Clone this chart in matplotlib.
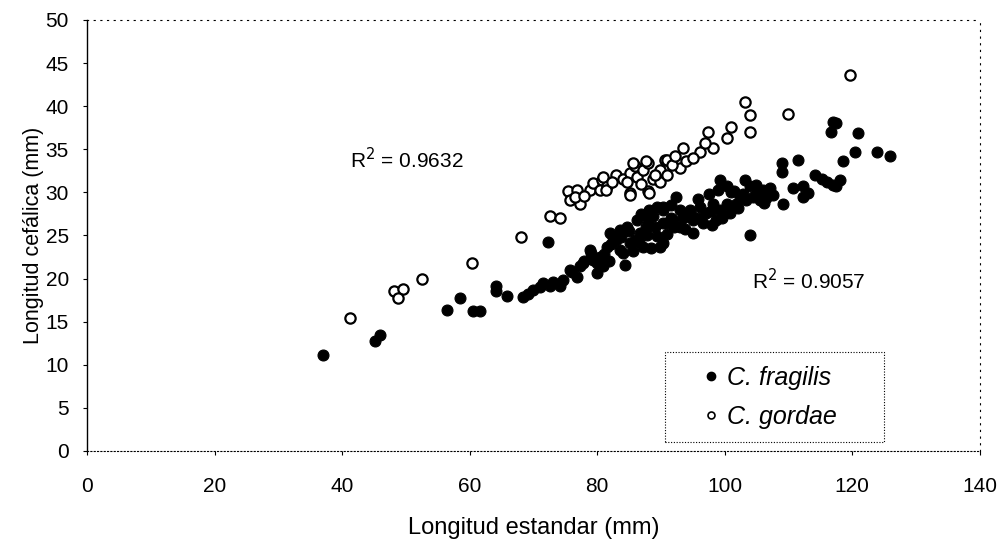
import matplotlib
matplotlib.use("Agg")
import matplotlib.pyplot as plt
from matplotlib.lines import Line2D

plt.rcParams['font.family'] = ['Liberation Sans', 'DejaVu Sans']

# C. fragilis (filled markers)
frag_x = [37.0, 45.1, 45.9, 56.4, 58.5, 60.6, 61.6, 64.2, 64.2, 65.8,
          68.4, 70.0, 71.5, 73.1, 74.7, 72.6, 74.1, 75.7, 77.3, 76.8,
          78.8, 79.4, 80.4, 80.9, 81.5, 79.9, 82.0, 83.0, 83.5, 84.6,
          83.5, 85.1, 84.3, 86.2, 86.7, 87.7, 88.8, 87.2, 89.3, 90.3,
          90.9, 89.8, 88.2, 89.3, 72.3,
          92.4, 93.0, 91.9, 93.0, 94.5, 95.0, 96.1, 97.1, 96.6, 98.2,
          99.2, 98.7, 100.3, 100.8, 95.0, 90.3, 90.3, 90.3, 101.8,
          99.2, 100.3, 98.9, 103.1, 103.9, 104.9, 106.0, 107.1, 107.6,
          102.4, 103.4, 104.4, 105.5, 106.5, 103.9,
          108.9, 108.9, 111.5, 110.7, 112.3, 112.3, 109.1, 113.1,
          114.1, 115.2, 116.0, 117.0, 118.0, 117.5,
          117.0, 116.7, 117.5, 120.9, 120.4, 123.8, 125.9, 118.5,
          69.2, 71.0, 76.0, 78.0, 81.0, 82.5, 85.0, 86.0, 87.8, 91.5,
          94.0, 97.5, 101.0, 102.0,
          77.8, 79.0, 80.0, 82.2, 84.0, 85.6, 86.5, 88.0, 89.0, 91.0,
          92.0, 93.5, 94.8, 96.0, 97.8, 99.5, 101.5, 102.8, 105.0, 106.2,
          81.8, 83.8, 86.8, 88.5, 91.5, 93.8, 95.8, 98.0]
frag_y = [11.1, 12.8, 13.4, 16.3, 17.8, 16.2, 16.2, 19.1, 18.6, 18.0,
          17.9, 18.7, 19.5, 19.6, 19.8, 19.1, 19.1, 21.0, 21.4, 20.2,
          23.3, 22.2, 22.5, 21.4, 23.7, 20.6, 25.3, 24.5, 25.6, 26.0,
          23.3, 24.1, 21.6, 26.8, 25.3, 26.0, 27.2, 23.7, 24.9, 28.0,
          26.4, 23.7, 28.0, 28.3, 24.2,
          29.5, 28.0, 26.8, 26.0, 28.0, 26.8, 28.3, 27.6, 26.4, 28.7,
          28.0, 26.8, 28.7, 27.6, 25.3, 28.3, 26.4, 24.1, 28.7,
          31.4, 30.7, 30.3, 31.4, 30.7, 30.9, 30.3, 30.5, 29.7,
          29.5, 29.1, 29.5, 29.1, 29.3, 25.1,
          33.4, 32.4, 33.8, 30.5, 30.7, 29.5, 28.7, 29.9,
          32.0, 31.6, 31.2, 30.9, 31.4, 30.7,
          38.2, 37.0, 38.0, 36.9, 34.7, 34.7, 34.2, 33.6,
          18.2, 19.0, 20.8, 22.0, 22.8, 24.8, 25.5, 24.5, 25.0, 27.0,
          27.2, 29.8, 30.0, 28.2,
          21.8, 23.0, 21.8, 24.0, 23.0, 23.2, 24.2, 26.8, 26.0, 25.2,
          26.0, 27.0, 27.2, 27.0, 27.8, 27.0, 30.2, 29.8, 29.9, 28.8,
          22.0, 24.8, 27.5, 23.5, 28.5, 25.8, 29.2, 26.2]

# C. gordae (open markers)
gord_x = [41.2, 48.2, 49.5, 48.8, 52.6, 60.4, 68.1, 72.6, 74.1,
          75.4, 75.7, 76.8, 77.3, 76.5, 78.8, 79.4, 80.7, 80.4, 81.5,
          83.0, 84.1, 85.1, 84.6, 85.1, 85.9, 86.2, 87.2, 88.0, 88.0,
          88.8, 89.8, 90.6, 80.9, 81.4, 85.6, 87.7, 88.2, 85.1,
          89.8, 90.9, 90.9, 93.0, 94.0, 93.5, 96.1, 98.2, 96.9, 97.4,
          100.3, 101.0, 103.9, 103.9, 103.1, 109.9, 119.6,
          78.0, 82.3, 86.8, 89.0, 91.8, 92.2, 95.0]
gord_y = [15.4, 18.6, 18.8, 17.8, 20.0, 21.8, 24.8, 27.2, 27.0,
          30.1, 29.1, 30.3, 28.7, 29.5, 30.3, 31.1, 31.4, 30.3, 30.7,
          32.0, 31.6, 32.2, 31.2, 29.9, 33.0, 31.8, 32.6, 33.4, 30.1,
          31.6, 32.6, 33.8, 31.8, 30.3, 33.4, 33.6, 29.9, 29.7,
          31.2, 32.0, 33.8, 32.8, 33.6, 35.1, 34.7, 35.1, 35.7, 37.0,
          36.3, 37.6, 37.0, 39.0, 40.5, 39.1, 43.6,
          29.6, 31.2, 31.0, 32.0, 33.2, 34.2, 34.0]

x_ticks = [0, 20, 40, 60, 80, 100, 120, 140]
y_ticks = [0, 5, 10, 15, 20, 25, 30, 35, 40, 45, 50]

fig = plt.figure(figsize=(10.06, 5.54), dpi=100)
ax = fig.add_axes([0.0865, 0.186, 0.8875, 0.778])

ax.scatter(frag_x, frag_y, s=62, c='black', edgecolors='black', linewidths=0.8)
ax.scatter(gord_x, gord_y, s=55, facecolors='white', edgecolors='black', linewidths=1.6)

ax.set_xlim(0, 140)
ax.set_ylim(0, 50)
ax.set_xticks(x_ticks)
ax.set_yticks(y_ticks)
ax.tick_params(axis='x', labelsize=15, length=3, width=0.8, pad=16)
ax.tick_params(axis='y', labelsize=15, length=3, width=0.8, pad=10)

ax.spines['left'].set_linewidth(1.0)
ax.spines['bottom'].set_linestyle((0, (1, 2)))
ax.spines['bottom'].set_linewidth(0.8)
for side in ['top', 'right']:
    ax.spines[side].set_linestyle((0, (1, 5)))
    ax.spines[side].set_linewidth(0.8)

ax.set_xlabel("Longitud estandar (mm)", fontsize=17, labelpad=15)
ax.set_ylabel("Longitud cefálica (mm)", fontsize=15.5, labelpad=1)

ax.text(41.2, 33.8, "R$^2$ = 0.9632", fontsize=15, va='center')
ax.text(104.2, 19.8, "R$^2$ = 0.9057", fontsize=15, va='center')

handles = [
    Line2D([], [], marker='o', linestyle='none', markersize=6,
           markerfacecolor='black', markeredgecolor='black'),
    Line2D([], [], marker='o', linestyle='none', markersize=5,
           markerfacecolor='white', markeredgecolor='black', markeredgewidth=1.2),
]
leg = ax.legend(handles, ["C. fragilis", "C. gordae"], loc='lower left',
                bbox_to_anchor=(90.6 / 140, 1.0 / 50, (125 - 90.6) / 140, 10.7 / 50),
                mode='expand', fancybox=False, handletextpad=-0.65,
                prop={'style': 'italic', 'size': 18}, borderpad=0.55,
                labelspacing=0.6, handlelength=2.6, borderaxespad=0)
frame = leg.get_frame()
frame.set_edgecolor('black')
frame.set_linestyle((0, (1, 1.5)))
frame.set_linewidth(0.8)
frame.set_alpha(1)

fig.savefig("out.png", dpi=100)
